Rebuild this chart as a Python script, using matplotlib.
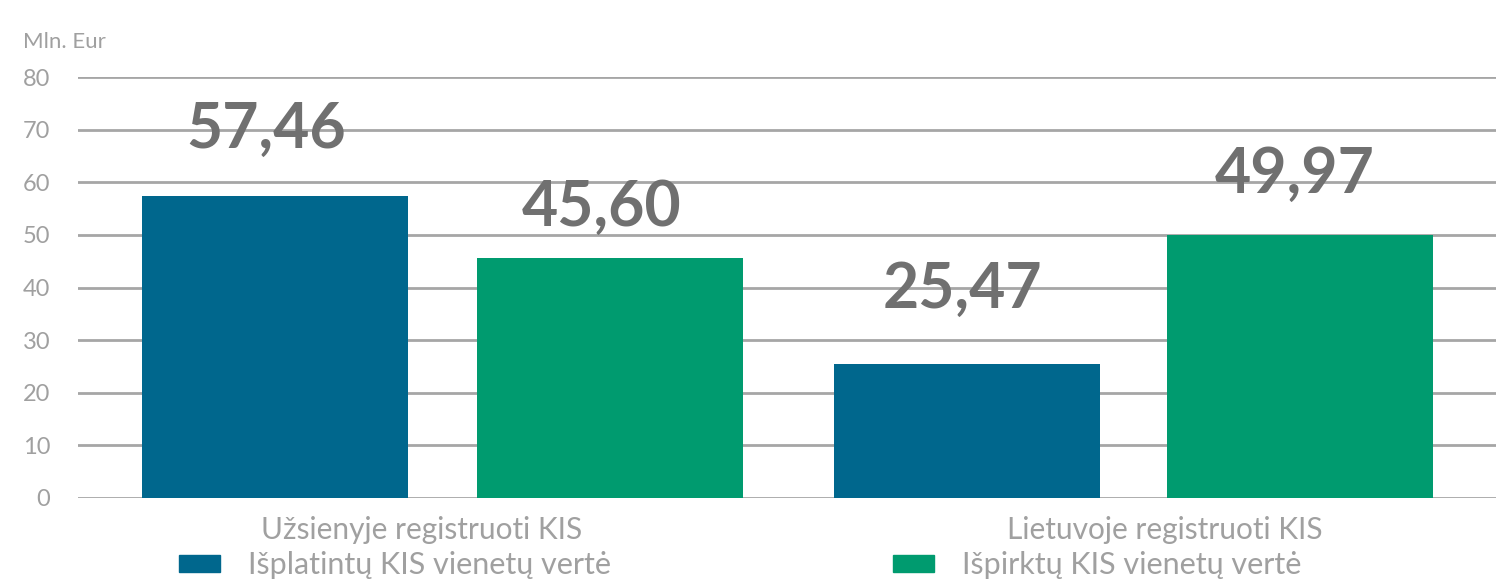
import matplotlib
matplotlib.use("Agg")
import matplotlib.pyplot as plt
from matplotlib.patches import Rectangle

# Data
categories = ["Užsienyje registruoti KIS", "Lietuvoje registruoti KIS"]
series_names = ["Išplatintų KIS vienetų vertė", "Išpirktų KIS vienetų vertė"]
isplatintu = [57.46, 25.47]
ispirktu = [45.60, 49.97]
value_labels = [["57,46", "25,47"], ["45,60", "49,97"]]
y_ticks = [0, 10, 20, 30, 40, 50, 60, 70, 80]

# Styling / layout
colors = ["#00678D", "#009B6F"]
grid_color = "#A6A6A6"
tick_color = "#A0A0A0"
label_color = "#707070"
plt.rcParams['font.family'] = ['Lato', 'DejaVu Sans']

W, H = 1496, 580
fig = plt.figure(figsize=(W / 100, H / 100), dpi=100)
ax_left, ax_right, ax_top, ax_bot = 78, 1496, 77, 498
ax = fig.add_axes([ax_left / W, 1 - ax_bot / H, (ax_right - ax_left) / W, (ax_bot - ax_top) / H])
ax.set_xlim(ax_left, ax_right)
ax.set_ylim(0, 80)

# bar layout in pixel-based x coordinates
bar_centers = [[275, 967], [610, 1300]]
bar_width = 266
label_dx = [[-9, -5], [-8, -5]]
label_dy = [[12.5, 14.0], [9.5, 11.5]]

for s, vals in enumerate([isplatintu, ispirktu]):
    ax.bar(bar_centers[s], vals, width=bar_width, color=colors[s], zorder=2)
    for i, v in enumerate(vals):
        ax.text(bar_centers[s][i] + label_dx[s][i], v + label_dy[s][i], value_labels[s][i],
                ha="center", va="center", fontsize=45, fontweight="bold",
                color=label_color, zorder=3)

for y in y_ticks:
    ax.axhline(y, color=grid_color, lw=2, zorder=1)

ax.set_yticks(y_ticks)
ax.set_yticklabels([str(t) for t in y_ticks], fontsize=17, fontweight="normal", color=tick_color)
ax.tick_params(axis="y", length=0, pad=20)
ax.set_xticks([])
for sp in ax.spines.values():
    sp.set_visible(False)

# unit label
fig.text(23 / W, 1 - 42 / H, "Mln. Eur", fontsize=16, fontweight="normal",
         color=tick_color, ha="left", va="center")

# category labels
cat_x = [422, 1165]
for cx, c in zip(cat_x, categories):
    fig.text(cx / W, 1 - 530 / H, c, fontsize=21.5, fontweight="normal",
             color=tick_color, ha="center", va="center")

# legend
leg_x = [179, 893]
for lx, name, col in zip(leg_x, series_names, colors):
    fig.patches.append(Rectangle((lx / W, 1 - 572 / H), 41 / W, 17 / H,
                                 transform=fig.transFigure, color=col, figure=fig))
    fig.text((lx + 69) / W, 1 - 565 / H, name, fontsize=22, fontweight="normal",
             color=tick_color, ha="left", va="center")

fig.savefig("out.png", dpi=100)
